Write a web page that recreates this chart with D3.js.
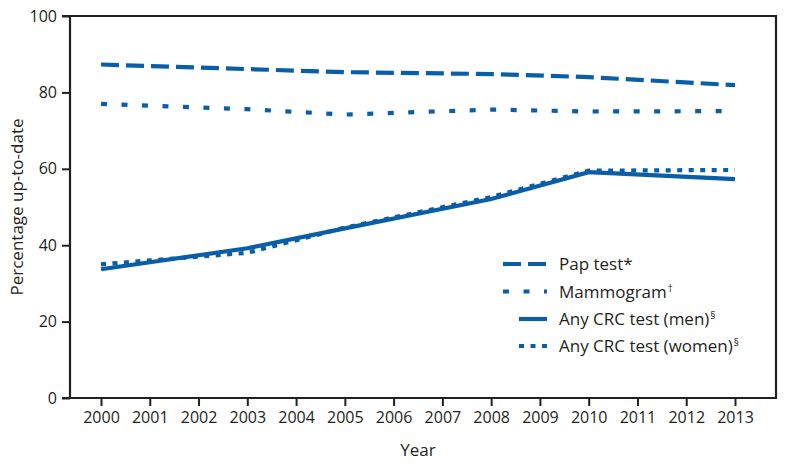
<!DOCTYPE html>
<html><head><meta charset="utf-8">
<script src="https://cdn.jsdelivr.net/npm/d3@7"></script>
<style>
body{margin:0;background:#fff;}
text{font-family:"Open Sans",sans-serif;fill:#231f20;}
</style></head>
<body><svg id="c" width="787" height="466"></svg>
<script>
const years = [2000, 2003, 2005, 2008, 2010, 2013];
const tickYears = [2000,2001,2002,2003,2004,2005,2006,2007,2008,2009,2010,2011,2012,2013];
const yTicks = [0,20,40,60,80,100];
const papTest = [87.3, 86.1, 85.3, 84.8, 84.0, 81.9];
const mammogram = [77.0, 75.6, 74.2, 75.5, 75.0, 75.1];
const crcMen = [33.7, 39.2, 44.4, 52.1, 59.1, 57.3];
const crcWomen = [35.0, 38.0, 44.6, 52.6, 59.5, 59.7];
const seriesNames = ["Pap test", "Mammogram", "Any CRC test (men)", "Any CRC test (women)"];
const seriesMarks = ["*", "†", "§", "§"];

const color = "#0a5ea8";
const dashes = ["18,7", "6,14.5", null, "5,6.5"];
const svg = d3.select("#c");
const L=70, R=776, T=16, B=398;
const x = d3.scaleLinear().domain([2000,2013]).range([101,735]);
const y = d3.scaleLinear().domain([0,100]).range([B,T]);

// axes
const xAxis = d3.axisBottom(x).tickValues(tickYears).tickFormat(d3.format("d")).tickSize(8).tickPadding(6);
const yAxis = d3.axisLeft(y).tickValues(yTicks).tickSize(8).tickPadding(5);
const gx = svg.append("g").attr("transform",`translate(0,${B})`).call(xAxis);
const gy = svg.append("g").attr("transform",`translate(${L},0)`).call(yAxis);
[gx,gy].forEach(g=>{
  g.select(".domain").remove();
  g.selectAll(".tick line").attr("stroke","#231f20").attr("stroke-width",2);
  g.selectAll(".tick text").attr("font-size",16).attr("fill","#231f20").style("font-family","Open Sans");
});
// frame
svg.append("path").attr("d",`M${L-8},${T}H${R}V${B}H${L-8}M${L},${T}V${B}`)
  .attr("fill","none").attr("stroke","#231f20").attr("stroke-width",2.2);

// axis titles
svg.append("text").attr("x",418).attr("y",456).attr("text-anchor","middle").attr("font-size",17).text("Year");
svg.append("text").attr("transform","translate(23,207) rotate(-90)").attr("text-anchor","middle").attr("font-size",17).text("Percentage up-to-date");

// lines
const all = [papTest, mammogram, crcMen, crcWomen];
const line = d3.line().x((d,i)=>x(years[i])).y(d=>y(d));
const order = [0,1,3,2];
order.forEach(k=>{
  svg.append("path").datum(all[k]).attr("d",line)
    .attr("fill","none").attr("stroke",color).attr("stroke-width",4.2)
    .attr("stroke-dasharray",dashes[k]);
});

// legend
const legY = [264, 291.5, 319, 346];
const legX0 = [503, 503, 519, 519];
seriesNames.forEach((n,i)=>{
  svg.append("line").attr("x1",legX0[i]).attr("x2",547).attr("y1",legY[i]).attr("y2",legY[i])
    .attr("stroke",color).attr("stroke-width",4.2).attr("stroke-dasharray",dashes[i]);
  const t = svg.append("text").attr("x",559).attr("y",legY[i]+6).attr("font-size",17);
  t.append("tspan").text(n);
  const s = t.append("tspan").text(seriesMarks[i]);
  if(i>0) s.attr("font-size",10).attr("dy",-6).attr("dx",1);
});
</script></body></html>
